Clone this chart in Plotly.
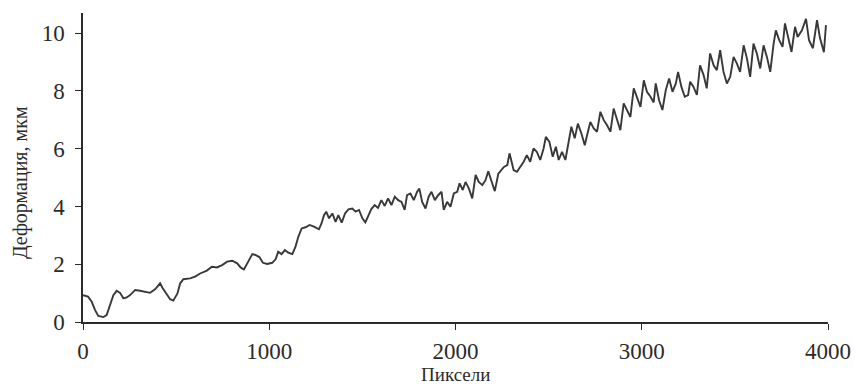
import plotly.graph_objects as go

pixels = [0, 27, 47, 65, 82, 109, 127, 145, 163, 181, 199, 217, 235, 253, 280, 306, 333, 360, 387, 414,
          428, 446, 468, 485, 507, 522, 539, 575, 602, 629, 665, 692, 719, 747, 774, 801, 828, 846, 864, 882,
          909, 926, 948, 966, 989, 1016, 1034, 1048, 1066, 1084, 1102, 1124, 1141, 1156, 1174, 1195, 1217, 1240,
          1267, 1281, 1294, 1306, 1321, 1339, 1356, 1371, 1389, 1407, 1425, 1446, 1464, 1482, 1500, 1516, 1531,
          1548, 1566, 1584, 1602, 1620, 1638, 1656, 1674, 1692, 1710, 1727, 1740, 1758, 1776, 1794, 1806, 1821,
          1839, 1856, 1871, 1889, 1907, 1925, 1937, 1955, 1973, 1991, 2009, 2022, 2039, 2054, 2072, 2090, 2108,
          2125, 2144, 2161, 2176, 2194, 2211, 2230, 2247, 2260, 2278, 2290, 2299, 2312, 2330, 2348, 2366, 2383,
          2401, 2419, 2437, 2455, 2473, 2485, 2504, 2522, 2539, 2554, 2572, 2590, 2604, 2622, 2640, 2657, 2676,
          2694, 2711, 2724, 2742, 2760, 2778, 2796, 2813, 2832, 2849, 2867, 2885, 2903, 2921, 2939, 2957, 2975,
          2993, 3011, 3028, 3047, 3064, 3075, 3093, 3111, 3129, 3147, 3165, 3183, 3195, 3213, 3231, 3249, 3260,
          3278, 3296, 3313, 3332, 3349, 3367, 3386, 3403, 3421, 3439, 3457, 3475, 3493, 3511, 3528, 3547, 3565,
          3582, 3600, 3618, 3636, 3654, 3672, 3690, 3708, 3720, 3738, 3756, 3769, 3786, 3804, 3823, 3837, 3860,
          3882, 3898, 3919, 3941, 3957, 3978, 3989]

deformation = [0.93, 0.88, 0.70, 0.41, 0.21, 0.17, 0.24, 0.59, 0.93, 1.08, 1.01, 0.82, 0.85, 0.93, 1.11, 1.08,
               1.05, 1.01, 1.13, 1.34, 1.17, 0.99, 0.79, 0.74, 0.99, 1.34, 1.48, 1.51, 1.57, 1.68, 1.78, 1.91,
               1.89, 1.97, 2.09, 2.12, 2.03, 1.89, 1.82, 2.03, 2.35, 2.32, 2.24, 2.05, 2.01, 2.05, 2.17, 2.43,
               2.35, 2.49, 2.40, 2.35, 2.61, 2.95, 3.24, 3.28, 3.36, 3.30, 3.21, 3.42, 3.70, 3.82, 3.59, 3.76,
               3.47, 3.70, 3.44, 3.76, 3.90, 3.93, 3.82, 3.88, 3.59, 3.45, 3.64, 3.91, 4.05, 3.95, 4.22, 4.02,
               4.28, 4.05, 4.34, 4.22, 4.16, 3.88, 4.39, 4.45, 4.22, 4.51, 4.62, 4.16, 3.93, 4.34, 4.51, 4.22,
               4.39, 4.51, 3.88, 4.16, 3.99, 4.45, 4.51, 4.80, 4.57, 4.85, 4.62, 4.28, 5.09, 4.85, 4.74, 4.91,
               5.22, 4.85, 4.53, 5.14, 5.26, 5.37, 5.43, 5.84, 5.61, 5.26, 5.20, 5.37, 5.55, 5.78, 5.55, 6.01,
               5.89, 5.61, 6.01, 6.41, 6.24, 5.72, 6.07, 5.61, 5.89, 5.61, 6.18, 6.76, 6.36, 6.87, 6.53, 6.12,
               6.59, 6.93, 6.70, 6.59, 7.28, 6.99, 6.82, 6.59, 7.39, 6.99, 6.64, 7.57, 7.34, 7.10, 8.09, 7.74,
               7.45, 8.37, 7.97, 7.80, 7.60, 8.26, 7.68, 7.34, 8.03, 8.43, 7.97, 8.26, 8.66, 8.14, 7.80, 7.86,
               8.32, 8.14, 7.86, 8.89, 8.55, 8.09, 9.30, 8.89, 8.72, 9.41, 8.66, 8.26, 8.49, 9.18, 8.95, 8.66,
               9.58, 9.12, 8.49, 9.64, 9.30, 8.78, 9.58, 9.18, 8.66, 9.64, 10.10, 9.76, 9.53, 10.34, 9.87, 9.35,
               10.22, 9.87, 10.10, 10.50, 9.76, 9.48, 10.45, 9.83, 9.34, 10.28]

x_ticks = [0, 1000, 2000, 3000, 4000]
y_ticks = [0, 2, 4, 6, 8, 10]
x_title = "Пиксели"
y_title = "Деформация, мкм"

ink = "#2b2b2b"
font_family = "Liberation Serif, DejaVu Serif, serif"

fig = go.Figure()
fig.add_trace(go.Scatter(x=pixels, y=deformation, mode="lines",
                         line=dict(color="#383838", width=1.9), showlegend=False))

axis_common = dict(showgrid=False, zeroline=False, showline=True, linecolor=ink, linewidth=1.5,
                   ticks="outside", ticklen=6, tickwidth=1.3, tickcolor=ink,
                   tickfont=dict(family=font_family, size=23, color=ink), automargin=False)

fig.update_xaxes(range=[0, 4000], tickvals=x_ticks, ticktext=[str(v) for v in x_ticks],
                 ticklabelstandoff=2, **axis_common)
fig.update_yaxes(range=[0, 10.7], tickvals=y_ticks, ticktext=[str(v) for v in y_ticks],
                 ticklabelstandoff=6, **axis_common)

fig.add_annotation(text=x_title, xref="paper", yref="paper", x=0.5, y=-0.17,
                   xanchor="center", yanchor="middle", showarrow=False,
                   font=dict(family=font_family, size=19, color=ink))
fig.add_annotation(text=y_title, xref="paper", yref="paper", x=-0.083, y=0.45,
                   xanchor="center", yanchor="middle", textangle=-90, showarrow=False,
                   font=dict(family=font_family, size=20, color=ink))

fig.update_layout(width=856, height=389, margin=dict(l=83, r=28, t=13, b=67),
                  plot_bgcolor="white", paper_bgcolor="white",
                  font=dict(family=font_family, color=ink))

fig.write_html("out.html")
